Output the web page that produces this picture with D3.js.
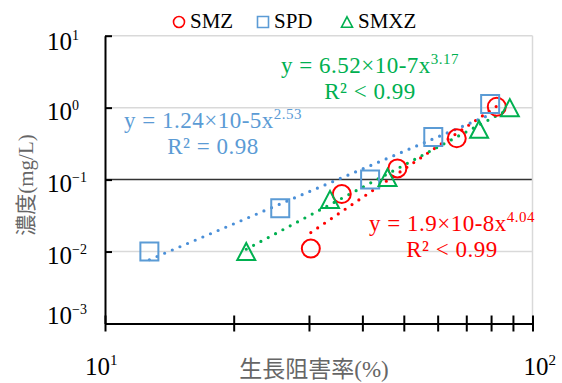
<!DOCTYPE html>
<html lang="ja">
<head>
<meta charset="utf-8">
<title>濃度と生長阻害率</title>
<script src="https://d3js.org/d3.v7.min.js"></script>
<style>
  body { margin: 0; background-color: #fff; }
  svg { display: block; background-color: #fff; font-family: "Liberation Serif", "Noto Sans CJK JP", serif; }
</style>
</head>
<body>
<script>

// values
var seriesNames = ["SMZ", "SPD", "SMXZ"];
var smzX  = [30.3, 35.8, 48.3, 66.5, 82.5];
var smzY  = [0.011, 0.063, 0.143, 0.375, 1.03];
var spdX  = [12.7, 25.7, 41.7, 58.6, 79.6];
var spdY  = [0.01, 0.04, 0.1, 0.39, 1.12];
var smxzX = [21.4, 33.6, 45.8, 75.0, 88.5];
var smxzY = [0.01, 0.053, 0.107, 0.5, 1.0];

// power trendlines y = a * x^b, as printed on the chart
var fitCoef = [1.9e-8, 1.24e-5, 6.52e-7];
var fitExp  = [4.04, 2.53, 3.17];
var eqText  = ["y = 1.9×10-8x", "y = 1.24×10-5x", "y = 6.52×10-7x"];
var eqSup   = ["4.04", "2.53", "3.17"];
var r2Text  = ["R² < 0.99", "R² = 0.98", "R² < 0.99"];

var xTicks = [10, 20, 30, 40, 50, 60, 70, 80, 90, 100];
var xLabelValues = [10, 100];
var xLabelSup = ["1", "2"];
var yTicks = [0.001, 0.01, 0.1, 1, 10];
var yLabelSup = ["−3", "−2", "−1", "0", "1"];

var xTitle = "生長阻害率(%)";
var yTitle = "濃度(mg/L)";

// ------------------------------------------------------------
var colors = ["#ff0000", "#5b9bd5", "#00b050"];
var lineColors = ["#ff0000", "#4a8fd8", "#00b050"];
var shapes = ["circle", "square", "triangle"];

var xs = [smzX, spdX, smxzX];
var ys = [smzY, spdY, smxzY];
var series = seriesNames.map(function(n, i) {
  return {
    name: n, i: i,
    points: xs[i].map(function(v, j) { return { x: v, y: ys[i][j] }; })
  };
});

var svg = d3.select("body").append("svg")
  .attr("width", 562)
  .attr("height", 383);

var x = d3.scaleLog().domain([10, 100]).range([105, 532.5]);
var y = d3.scaleLog().domain([0.001, 10]).range([323.5, 35.7]);

// gridlines (the 10^-1 one is drawn dark in the original)
svg.append("g").selectAll("line")
  .data([10, 1, 0.1, 0.01])
  .enter().append("line")
  .attr("x1", x(10)).attr("x2", x(100))
  .attr("y1", function(d) { return y(d); })
  .attr("y2", function(d) { return y(d); })
  .attr("stroke", function(d) { return d === 0.1 ? "#333" : "#d9d9d9"; })
  .attr("stroke-width", 1.5);

svg.append("line")
  .attr("x1", x(100)).attr("x2", x(100))
  .attr("y1", y(10)).attr("y2", y(0.001))
  .attr("stroke", "#d9d9d9").attr("stroke-width", 1.5);

// y axis with inward ticks
var yAxis = svg.append("g")
  .attr("transform", "translate(" + x(10) + ",0)")
  .call(d3.axisRight(y).tickValues(yTicks).tickSize(7).tickSizeOuter(0).tickFormat(""));
yAxis.select(".domain").attr("stroke", "#000").attr("stroke-width", 2);
yAxis.selectAll(".tick line").attr("stroke", "#000").attr("stroke-width", 2);

// x axis with crossing ticks
var xAxis = svg.append("g")
  .attr("transform", "translate(0," + y(0.001) + ")")
  .call(d3.axisBottom(x).tickValues(xTicks).tickSize(0).tickSizeOuter(0).tickFormat(""));
xAxis.select(".domain").attr("stroke", "#000").attr("stroke-width", 2);
xAxis.selectAll(".tick line")
  .attr("y1", -8).attr("y2", 8)
  .attr("stroke", "#000").attr("stroke-width", 2);

// y tick labels (hand placed in the original, mostly a bit below the tick)
var yLabelDy = [0, 12, 12, 12.5, 14];
var yl = svg.append("g").selectAll("text")
  .data(yTicks)
  .enter().append("text")
  .attr("x", 47)
  .attr("y", function(d, i) { return y(d) + yLabelDy[i]; })
  .attr("font-size", 25)
  .attr("fill", "#000");
yl.append("tspan").text("10");
yl.append("tspan")
  .attr("dy", -10)
  .attr("font-size", 14)
  .text(function(d, i) { return yLabelSup[i]; });

// x tick labels
var xLabelDx = [-20, -9];
var xl = svg.append("g").selectAll("text")
  .data(xLabelValues)
  .enter().append("text")
  .attr("x", function(d, i) { return x(d) + xLabelDx[i]; })
  .attr("y", 375)
  .attr("font-size", 25)
  .attr("fill", "#000");
xl.append("tspan").text("10");
xl.append("tspan")
  .attr("dy", -10)
  .attr("font-size", 15)
  .text(function(d, i) { return xLabelSup[i]; });

// axis titles
svg.append("text")
  .attr("x", 314).attr("y", 377)
  .attr("text-anchor", "middle")
  .attr("font-size", 23)
  .attr("fill", "#666")
  .text(xTitle);

svg.append("text")
  .attr("transform", "translate(33,185) rotate(-90)")
  .attr("text-anchor", "middle")
  .attr("font-size", 21)
  .attr("fill", "#666")
  .text(yTitle);

// trendlines
var line = d3.line()
  .x(function(d) { return x(d.x); })
  .y(function(d) { return y(d.y); });

svg.append("g").selectAll("path")
  .data(series)
  .enter().append("path")
  .attr("d", function(s) {
    var ext = d3.extent(s.points, function(p) { return p.x; });
    var pts = ext.map(function(v) { return { x: v, y: fitCoef[s.i] * Math.pow(v, fitExp[s.i]) }; });
    return line(pts);
  })
  .attr("fill", "none")
  .attr("stroke", function(s) { return lineColors[s.i]; })
  .attr("stroke-width", 3.2)
  .attr("stroke-linecap", "round")
  .attr("stroke-dasharray", "0 8.3");

// markers
function markerPath(shape, size) {
  var h = size / 2;
  if (shape === "circle") return d3.symbol().type(d3.symbolCircle).size(Math.PI * h * h)();
  if (shape === "square") return "M" + (-h) + "," + (-h) + "h" + size + "v" + size + "h" + (-size) + "Z";
  return "M0," + (-h * 0.95) + "L" + h + "," + (h * 0.95) + "L" + (-h) + "," + (h * 0.95) + "Z";
}

var groups = svg.append("g").selectAll("g")
  .data(series)
  .enter().append("g");

groups.selectAll("path")
  .data(function(s) { return s.points.map(function(p) { return { x: p.x, y: p.y, i: s.i }; }); })
  .enter().append("path")
  .attr("transform", function(d) { return "translate(" + x(d.x) + "," + y(d.y) + ")"; })
  .attr("d", function(d) { return markerPath(shapes[d.i], 18); })
  .attr("fill", "none")
  .attr("stroke", function(d) { return colors[d.i]; })
  .attr("stroke-width", 2);

// equations
var eqPos = [[452, 231], [213, 128], [370, 73]];
var eq = svg.append("g").selectAll("g")
  .data(series)
  .enter().append("g")
  .attr("fill", function(s) { return colors[s.i]; })
  .attr("letter-spacing", 0.5);

var eqLine = eq.append("text")
  .attr("x", function(s) { return eqPos[s.i][0]; })
  .attr("y", function(s) { return eqPos[s.i][1]; })
  .attr("text-anchor", "middle")
  .attr("font-size", 23);
eqLine.append("tspan").text(function(s) { return eqText[s.i]; });
eqLine.append("tspan")
  .attr("dy", -9)
  .attr("font-size", 15)
  .text(function(s) { return eqSup[s.i]; });

eq.append("text")
  .attr("x", function(s) { return eqPos[s.i][0]; })
  .attr("y", function(s) { return eqPos[s.i][1] + 26; })
  .attr("text-anchor", "middle")
  .attr("font-size", 23)
  .text(function(s) { return r2Text[s.i]; });

// legend
var legend = svg.append("g").selectAll("g")
  .data(series)
  .enter().append("g")
  .attr("transform", function(s) { return "translate(" + (179 + s.i * 84) + ",22)"; });

legend.append("path")
  .attr("d", function(s) { return markerPath(shapes[s.i], 11); })
  .attr("fill", "none")
  .attr("stroke", function(s) { return colors[s.i]; })
  .attr("stroke-width", 1.6);

legend.append("text")
  .attr("x", 11).attr("y", 6)
  .attr("font-size", 21)
  .attr("fill", "#000")
  .text(function(s) { return s.name; });

</script>
</body>
</html>
